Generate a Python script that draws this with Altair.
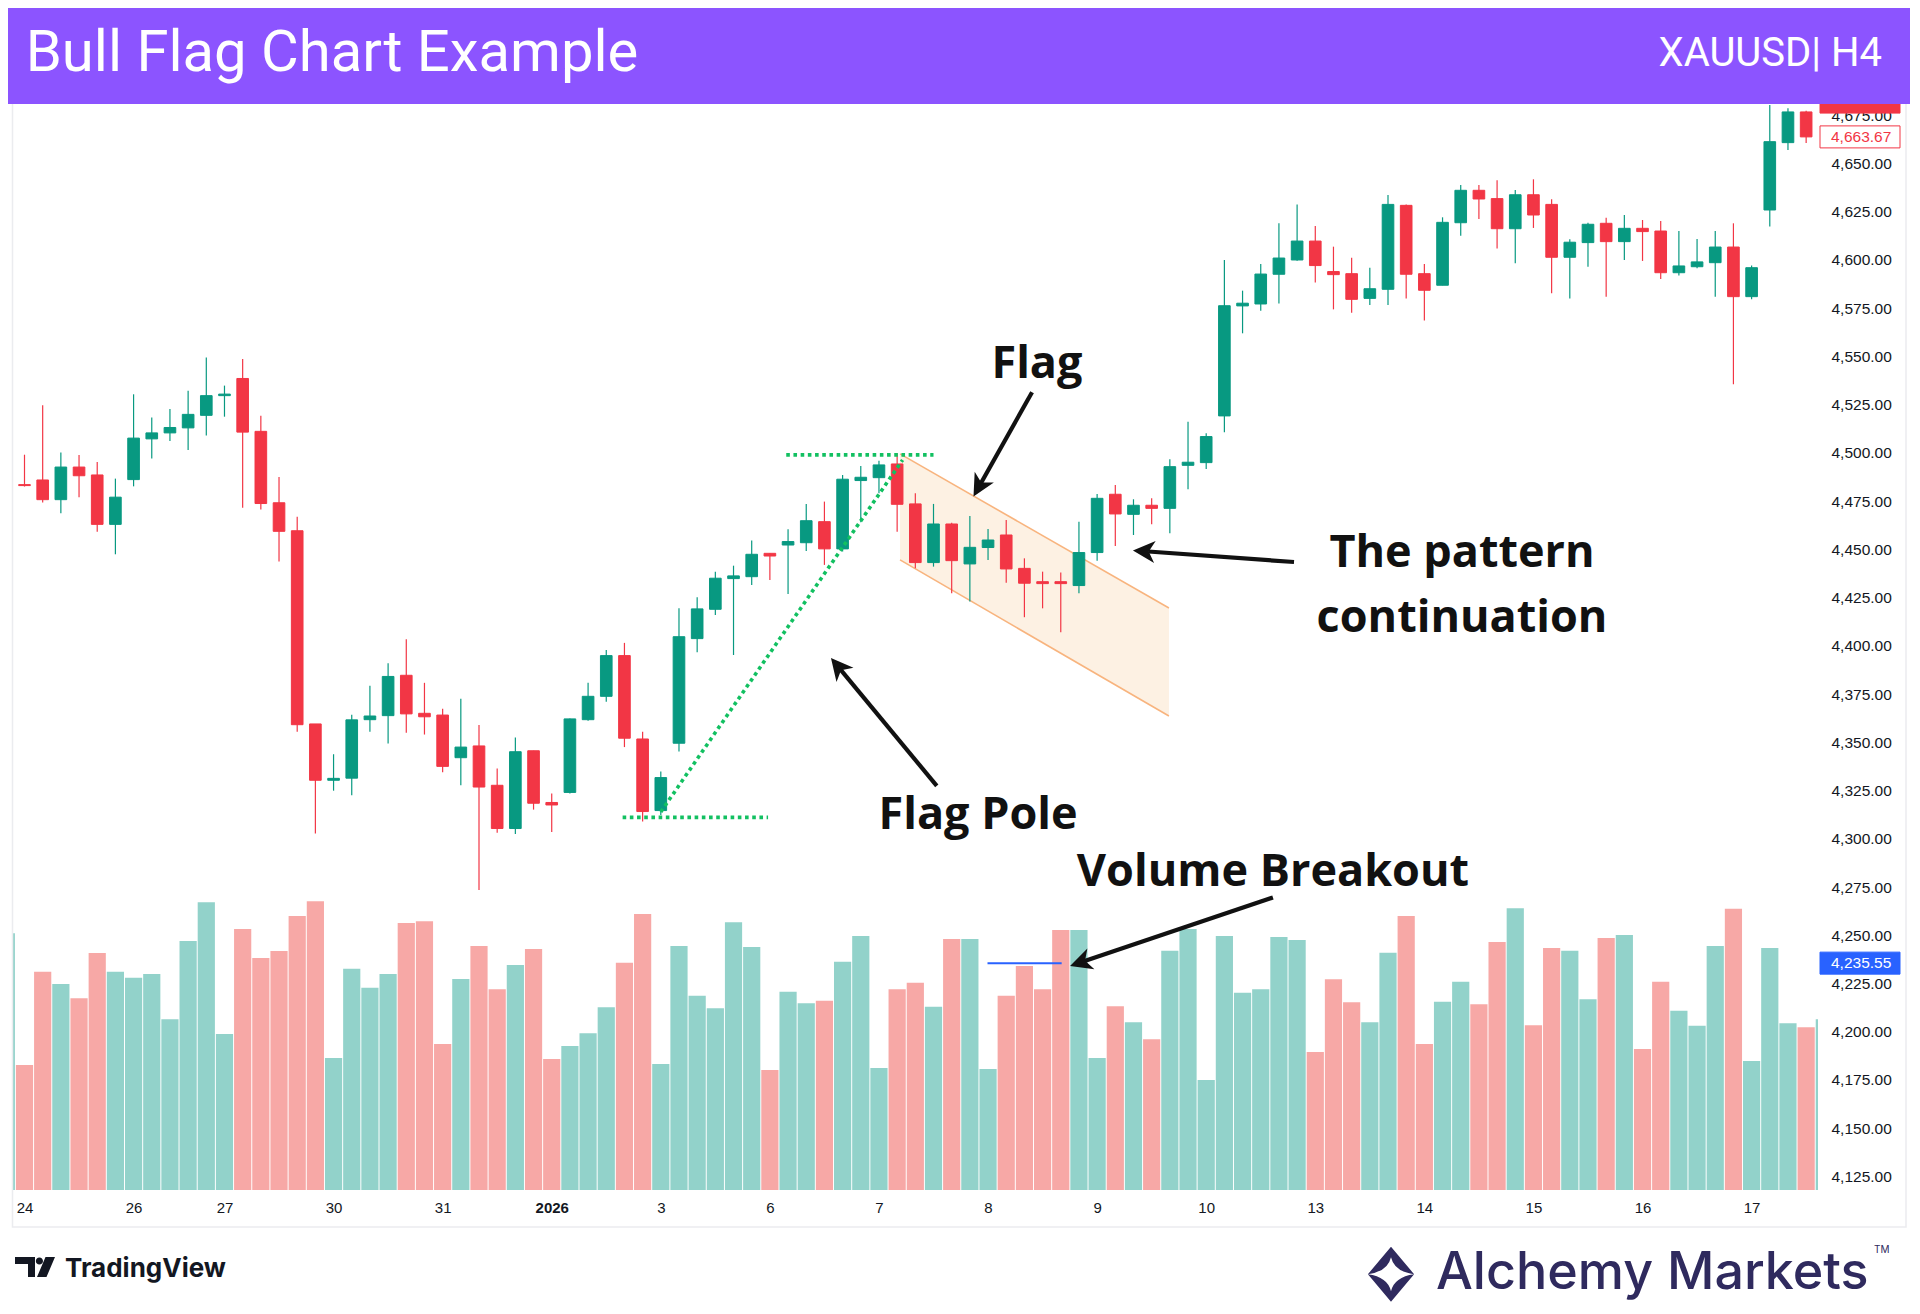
import math
import altair as alt
import pandas as pd

# ------------------------------------------------------------------ data
candle_open = [4483.5, 4485.9, 4475.7, 4492.6, 4488.5, 4462.9, 4486.1, 4507.2, 4510.3, 4512.9,
               4519.4, 4529.6, 4538.5, 4511.1, 4474.1, 4459.6, 4359.5, 4330.3, 4331.4, 4361.7,
               4363.8, 4384.7, 4365.0, 4364.1, 4342.0, 4348.1, 4327.7, 4305.3, 4345.6, 4318.8,
               4324.0, 4361.7, 4373.8, 4394.9, 4351.7, 4314.6, 4349.5, 4403.7, 4418.9, 4434.8,
               4435.8, 4447.9, 4452.2, 4453.4, 4464.3, 4450.2, 4485.6, 4487.1, 4494.2, 4473.5,
               4443.1, 4463.1, 4442.4, 4450.9, 4457.4, 4440.1, 4433.2, 4433.2, 4431.2, 4448.3,
               4478.5, 4468.1, 4472.8, 4471.2, 4493.5, 4494.9, 4519.1, 4576.1, 4577.1, 4592.5,
               4599.9, 4609.7, 4593.9, 4592.8, 4580.0, 4584.7, 4628.2, 4592.8, 4586.8, 4619.2,
               4636.0, 4631.7, 4616.1, 4633.7, 4628.7, 4601.3, 4608.9, 4618.9, 4609.4, 4616.3,
               4614.9, 4593.3, 4596.4, 4598.5, 4606.6, 4580.9, 4625.8, 4660.7, 4676.6]
candle_high = [4499.0, 4524.6, 4500.2, 4498.9, 4495.2, 4486.6, 4530.3, 4518.3, 4522.7, 4532.2,
               4549.4, 4534.8, 4548.6, 4519.2, 4487.4, 4466.8, 4359.5, 4343.8, 4364.2, 4379.3,
               4391.0, 4403.4, 4380.8, 4367.3, 4372.5, 4359.0, 4336.4, 4352.5, 4345.6, 4323.4,
               4362.3, 4380.8, 4397.8, 4401.5, 4355.5, 4334.8, 4419.4, 4425.1, 4438.4, 4441.5,
               4454.5, 4447.9, 4460.4, 4473.5, 4474.7, 4488.5, 4493.2, 4495.9, 4499.7, 4479.0,
               4473.5, 4463.8, 4467.3, 4460.5, 4465.2, 4445.3, 4438.4, 4437.9, 4464.3, 4478.7,
               4483.3, 4475.9, 4476.4, 4496.6, 4516.1, 4510.1, 4599.9, 4584.0, 4597.8, 4618.9,
               4628.7, 4617.5, 4606.8, 4601.1, 4595.9, 4633.6, 4628.7, 4597.8, 4622.0, 4638.8,
               4638.8, 4641.2, 4636.2, 4641.7, 4631.3, 4610.6, 4619.2, 4621.8, 4623.2, 4620.6,
               4620.1, 4614.9, 4610.8, 4614.9, 4618.9, 4597.0, 4685.0, 4678.5, 4677.2]
candle_low = [4482.5, 4474.2, 4468.7, 4477.0, 4459.1, 4447.4, 4482.6, 4497.0, 4506.1, 4501.4,
              4508.9, 4518.7, 4471.5, 4470.6, 4443.7, 4355.4, 4302.7, 4324.9, 4322.5, 4355.4,
              4349.3, 4354.9, 4354.0, 4334.5, 4327.7, 4273.5, 4303.1, 4302.5, 4315.1, 4303.5,
              4323.4, 4361.2, 4371.0, 4347.5, 4308.9, 4312.3, 4345.2, 4396.6, 4416.0, 4395.2,
              4431.5, 4434.1, 4426.8, 4449.1, 4441.9, 4448.8, 4464.0, 4479.0, 4459.1, 4440.1,
              4441.0, 4427.2, 4422.9, 4444.5, 4432.7, 4414.8, 4419.4, 4407.0, 4427.2, 4444.1,
              4451.7, 4457.4, 4462.9, 4458.3, 4481.1, 4491.6, 4510.6, 4561.9, 4573.6, 4577.4,
              4599.5, 4588.2, 4574.3, 4572.6, 4576.6, 4576.6, 4580.0, 4568.5, 4586.8, 4612.5,
              4621.1, 4605.8, 4598.2, 4616.5, 4582.6, 4580.0, 4596.4, 4580.9, 4599.9, 4599.4,
              4590.1, 4591.8, 4595.6, 4580.9, 4535.5, 4579.5, 4617.2, 4656.9, 4660.5]
candle_close = [4483.0, 4475.7, 4492.6, 4488.1, 4462.9, 4477.0, 4507.6, 4510.3, 4513.1, 4519.9,
                4529.6, 4530.4, 4510.7, 4473.7, 4459.3, 4359.1, 4330.3, 4331.3, 4361.6, 4363.6,
                4384.1, 4364.7, 4363.2, 4337.5, 4347.5, 4326.8, 4305.3, 4345.1, 4318.4, 4317.5,
                4362.1, 4373.8, 4394.9, 4352.1, 4314.1, 4331.7, 4404.7, 4419.1, 4435.0, 4436.2,
                4447.4, 4446.5, 4454.0, 4464.8, 4450.2, 4486.3, 4487.3, 4493.7, 4473.3, 4443.1,
                4463.1, 4444.1, 4451.0, 4454.8, 4439.8, 4432.4, 4432.2, 4432.2, 4448.3, 4476.4,
                4468.3, 4472.8, 4471.2, 4492.8, 4495.1, 4508.4, 4576.2, 4577.5, 4592.6, 4600.9,
                4609.7, 4597.0, 4592.3, 4579.5, 4585.0, 4628.7, 4592.5, 4584.2, 4619.4, 4636.0,
                4631.5, 4616.1, 4633.7, 4623.2, 4601.3, 4609.1, 4618.4, 4609.4, 4616.3, 4614.6,
                4593.3, 4596.8, 4598.9, 4606.6, 4580.9, 4595.9, 4661.2, 4676.6, 4663.67]

# volume bars from index -1 (cut by the left edge) to 99 (cut by the right edge)
volume_first_index = -1
volume = [256.7, 125, 218.3, 206, 191.7, 237, 218.3, 212.3, 216, 170.7,
          249, 287.7, 156, 261, 232, 239, 274, 288.7, 132, 221.3,
          202.3, 216, 267, 268.7, 146, 211, 244, 200.7, 225, 241,
          131, 144, 156.7, 182.7, 227.3, 276, 126, 244, 194.3, 181.7,
          267.7, 243, 120, 198.3, 186.7, 189.3, 228.3, 254, 122, 200.7,
          207.3, 183.3, 251, 251, 121, 194.3, 224, 200.7, 260, 260,
          132, 183.7, 167.7, 150.7, 239.3, 261, 110, 254, 197.3, 200.7,
          253, 250, 138, 210.7, 187.7, 167.7, 237.3, 274, 146, 188.3,
          208.3, 185.7, 248, 281.7, 164.7, 242, 239.3, 190.7, 252, 255,
          141, 208.3, 179.3, 164.3, 244, 281.3, 129, 242, 166.7, 162.7,
          170.7]

x_label_index = [0, 6, 11, 17, 23, 29, 35, 41, 47, 53, 59, 65, 71, 77, 83, 89, 95]
x_label_text = ["24", "26", "27", "30", "31", "2026", "3", "6", "7", "8", "9",
                "10", "13", "14", "15", "16", "17"]
price_ticks = [4125 + 25 * k for k in range(23)]

# flag channel (parallel channel drawing)
flag_x = [48.16, 62.95]
flag_top = [4499.4, 4419.6]
flag_bottom = [4444.5, 4363.6]

# dotted pole guides: (name, x0, x1, p0, p1)
pole_lines = [("top", 41.9, 50.0, 4498.9, 4498.9),
              ("bottom", 32.9, 40.9, 4311.1, 4311.1),
              ("pole", 35.0, 48.3, 4313.9, 4496.3)]

# arrows: (x_start, p_start, x_tip, p_tip)
arrows = [(55.42, 4531.4, 52.2, 4477.4),
          (50.18, 4327.4, 44.36, 4393.7),
          (69.83, 4443.4, 60.97, 4449.4),
          (68.67, 4269.6, 57.51, 4234.1)]

notes = [("Flag", 55.69, 4546.2), ("Flag Pole", 52.45, 4312.1),
         ("The pattern", 79.07, 4447.9), ("continuation", 79.07, 4414.3),
         ("Volume Breakout", 68.67, 4282.9)]

breakout_level = 4235.55
breakout_x = [52.97, 57.05]

# price tags on the right scale: (price, text, fill, stroke, text colour)
price_tags = [(4681.7, "", "#f23645", "#f23645", "#ffffff"),
              (4663.67, "4,663.67", "#ffffff", "#f23645", "#f23645"),
              (4235.55, "4,235.55", "#2962ff", "#2962ff", "#ffffff")]

# ------------------------------------------------------------------ layout
W, H = 1805, 1085
X_DOM = [-0.6326, 98.652]
Y_DOM = [4118.0, 4680.2]
PX_X = W / (X_DOM[1] - X_DOM[0])
PX_Y = H / (Y_DOM[1] - Y_DOM[0])

UP, DOWN = "#089981", "#f23645"
VUP, VDOWN = "#92d2ca", "#f7a8a6"
INK = "#131722"

XS = alt.Scale(domain=X_DOM, nice=False, zero=False)
YS = alt.Scale(domain=Y_DOM, nice=False, zero=False)

x_axis = alt.Axis(values=x_label_index,
                  labelExpr="[" + ",".join(f"'{t}'" for t in x_label_text) + "][indexof(["
                  + ",".join(str(v) for v in x_label_index) + "], datum.value)]",
                  domain=False, ticks=False, grid=False, title=None,
                  labelFont="Liberation Sans", labelFontSize=15, labelColor=INK,
                  labelPadding=10, labelFlush=False, labelOverlap=False,
                  labelFontWeight={"condition": {"test": "datum.value == 29", "value": "bold"},
                                   "value": "normal"})
y_axis = alt.Axis(orient="right", values=price_ticks, format=",.2f", domain=False,
                  ticks=False, grid=False, title=None, labelFont="Liberation Sans",
                  labelFontSize=15.5, labelColor=INK, labelPadding=13,
                  labelOverlap=False, labelFlush=False)


# every layer gets the identical axis definition so that the merged axis stays enabled
def xq(f):
    return alt.X(f"{f}:Q", scale=XS, axis=x_axis)


def yq(f):
    return alt.Y(f"{f}:Q", scale=YS, axis=y_axis)


one = pd.DataFrame({"k": [0]})

# candles
cdf = pd.DataFrame({"i": list(range(len(candle_open))), "o": candle_open,
                    "h": candle_high, "l": candle_low, "c": candle_close})
cdf["col"] = [UP if c >= o else DOWN for o, c in zip(cdf.o, cdf.c)]
cdf["b0"] = cdf[["o", "c"]].min(axis=1)
cdf["b1"] = cdf[["o", "c"]].max(axis=1)
cdf["xl"] = cdf.i - 0.32
cdf["xr"] = cdf.i + 0.32

vidx = list(range(volume_first_index, volume_first_index + len(volume)))
vcol = []
for i in vidx:
    if 0 <= i < len(candle_open):
        vcol.append(VUP if candle_close[i] >= candle_open[i] else VDOWN)
    else:
        vcol.append(VUP)
vdf = pd.DataFrame({"i": vidx, "v": volume, "col": vcol})
vdf["xl"] = vdf.i - 0.473
vdf["xr"] = vdf.i + 0.473
vdf["zero"] = 0

vol_layer = alt.Chart(vdf).mark_rect(clip=True).encode(
    x=xq("xl"), x2=alt.X2("xr"),
    y=alt.Y("v:Q", scale=alt.Scale(domain=[0, H], nice=False), axis=None),
    y2=alt.Y2("zero"),
    color=alt.Color("col:N", scale=None))

# flag channel
fdf = pd.DataFrame({"x": flag_x, "t": flag_top, "b": flag_bottom})
flag_fill = alt.Chart(fdf).mark_area(color="#fdf1e3", opacity=1).encode(
    x=xq("x"), y=yq("t"), y2=alt.Y2("b"))
edf = pd.DataFrame({"x": flag_x + flag_x, "p": flag_top + flag_bottom,
                    "e": ["t", "t", "b", "b"]})
flag_edges = alt.Chart(edf).mark_line(color="#f8b47e", strokeWidth=1.6).encode(
    x=xq("x"), y=yq("p"), detail="e:N")

wicks = alt.Chart(cdf).mark_rule(clip=True, strokeWidth=1.2).encode(
    x=xq("i"), y=yq("l"), y2=alt.Y2("h"), color=alt.Color("col:N", scale=None))
bodies = alt.Chart(cdf).mark_rect(clip=True, strokeWidth=1).encode(
    x=xq("xl"), x2=alt.X2("xr"), y=yq("b0"), y2=alt.Y2("b1"),
    color=alt.Color("col:N", scale=None), stroke=alt.Stroke("col:N", scale=None))

# dotted guides
rows = []
for name, x0, x1, p0, p1 in pole_lines:
    rows += [{"s": name, "x": x0, "p": p0, "o": 0}, {"s": name, "x": x1, "p": p1, "o": 1}]
pole = alt.Chart(pd.DataFrame(rows)).mark_line(
    color="#12c061", strokeWidth=3.6, strokeDash=[3.6, 3.6], strokeCap="butt").encode(
    x=xq("x"), y=yq("p"), detail="s:N", order="o:Q")

# breakout level
bdf = pd.DataFrame({"x0": [breakout_x[0]], "x1": [breakout_x[1]], "p": [breakout_level]})
blevel = alt.Chart(bdf).mark_rule(color="#2962ff", strokeWidth=2).encode(
    x=xq("x0"), x2=alt.X2("x1"), y=yq("p"))

# arrows
HEAD = 22.0
arows = []
for xs, ps, xt, pt in arrows:
    dx = (xt - xs) * PX_X
    dy = -(pt - ps) * PX_Y
    ln = math.hypot(dx, dy)
    ux, uy = dx / ln, dy / ln
    ang = math.degrees(math.atan2(dx, -dy)) % 360
    back = HEAD * 0.7
    arows.append({"xs": xs, "ps": ps, "xt": xt, "pt": pt,
                  "xe": xt - back * ux / PX_X, "pe": pt + back * uy / PX_Y, "ang": ang})
adf = pd.DataFrame(arows)
arrow_lines = alt.Chart(adf).mark_rule(color="#111111", strokeWidth=4.2, strokeCap="butt").encode(
    x=xq("xs"), y=yq("ps"), x2=alt.X2("xe"), y2=alt.Y2("pe"))
arrow_heads = alt.Chart(adf).mark_point(
    shape="M0,0 L0.5,1 L0,0.72 L-0.5,1 Z", filled=True, opacity=1,
    size=(2 * HEAD) ** 2, color="#111111", strokeWidth=0).encode(
    x=xq("xt"), y=yq("pt"), angle=alt.Angle("ang:Q", scale=None))

ndf = pd.DataFrame(notes, columns=["t", "x", "p"])
note_text = alt.Chart(ndf).mark_text(
    font="Open Sans", fontWeight="bold", fontSize=45, color="#111111",
    align="center", baseline="middle").encode(x=xq("x"), y=yq("p"), text="t:N")

# price tags on the scale
tdf = pd.DataFrame(price_tags, columns=["p", "t", "fill", "stroke", "tc"])
tdf["p0"] = tdf.p + 11 / PX_Y
tdf["p1"] = tdf.p - 11 / PX_Y
tag_box = alt.Chart(tdf).mark_rect(strokeWidth=1).encode(
    x=alt.value(W + 2), x2=alt.value(W + 82), y=yq("p0"), y2=alt.Y2("p1"),
    fill=alt.Fill("fill:N", scale=None), stroke=alt.Stroke("stroke:N", scale=None))
tag_text = alt.Chart(tdf).mark_text(
    font="Liberation Sans", fontSize=15.5, align="left", baseline="middle").encode(
    x=alt.value(W + 13), y=yq("p"), text="t:N", color=alt.Color("tc:N", scale=None))

# frame, header, footer (page furniture)
frame = alt.Chart(one).mark_rect(fill="transparent", stroke="#ebecef", strokeWidth=1.5).encode(
    x=alt.value(-0.5), x2=alt.value(1893), y=alt.value(-5), y2=alt.value(1122))
header = alt.Chart(one).mark_rect(color="#8c54ff").encode(
    x=alt.value(-30), x2=alt.value(1930), y=alt.value(-130), y2=alt.value(-1))
title = alt.Chart(one).mark_text(
    text="Bull Flag Chart Example", font="Roboto", fontSize=58, color="#ffffff",
    align="left", baseline="alphabetic").encode(x=alt.value(12.7), y=alt.value(-34.3))
symbol = alt.Chart(one).mark_text(
    text="XAUUSD| H4", font="Roboto", fontSize=40, color="#ffffff",
    align="right", baseline="alphabetic").encode(x=alt.value(1869), y=alt.value(-39.3))

TV_PATH = ("M-1,-0.5 L0,-0.5 L0,0.5 L-0.35,0.5 L-0.35,-0.15 L-1,-0.15 Z "
           "M0.04,-0.3 A0.18,0.18 0 1,0 0.40,-0.3 A0.18,0.18 0 1,0 0.04,-0.3 Z "
           "M0.525,-0.5 L1,-0.5 L0.575,0.5 L0.1,0.5 Z")
tv_logo = alt.Chart(one).mark_point(shape=TV_PATH, filled=True, opacity=1, size=1600,
                                    color=INK, strokeWidth=0).encode(
    x=alt.value(22), y=alt.value(1162))
tv_text = alt.Chart(one).mark_text(
    text="TradingView", font="Inter", fontWeight="bold", fontSize=26, color=INK,
    align="left", baseline="alphabetic").encode(x=alt.value(52), y=alt.value(1171.7))

AM_PATH = ("M0,-1 L0.84,0 L0,1 L-0.84,0 Z "
           "M0,-0.62 Q-0.12,-0.1 -0.84,0 Q-0.12,0.1 0,0.62 Q0.12,0.1 0.84,0 Q0.12,-0.1 0,-0.62 Z")
am_logo = alt.Chart(one).mark_point(shape=AM_PATH, filled=True, opacity=1, size=3025,
                                    color="#2f2a5e", strokeWidth=0).encode(
    x=alt.value(1378), y=alt.value(1169.2))
am_text = alt.Chart(one).mark_text(
    text="Alchemy Markets", font="Inter", fontWeight=500, fontSize=52, color="#2f2a5e",
    align="left", baseline="alphabetic").encode(x=alt.value(1423), y=alt.value(1184))
am_tm = alt.Chart(one).mark_text(
    text="TM", font="Inter", fontSize=10, color="#2f2a5e",
    align="left", baseline="alphabetic").encode(x=alt.value(1861), y=alt.value(1148))

price_group = alt.layer(
    flag_fill, flag_edges, wicks, bodies, blevel, pole, arrow_lines, arrow_heads,
    note_text, tag_box, tag_text, frame, header, title, symbol,
    tv_logo, tv_text, am_logo, am_text, am_tm)

chart = alt.layer(vol_layer, price_group).resolve_scale(y="independent").properties(
    width=W, height=H,
    padding={"left": 5, "top": 97, "right": 92, "bottom": 113},
    autosize=alt.AutoSizeParams(type="none"),
    background="#ffffff",
).configure_view(strokeWidth=0)

chart.save("out.html", embed_options={"renderer": "svg", "actions": False})
